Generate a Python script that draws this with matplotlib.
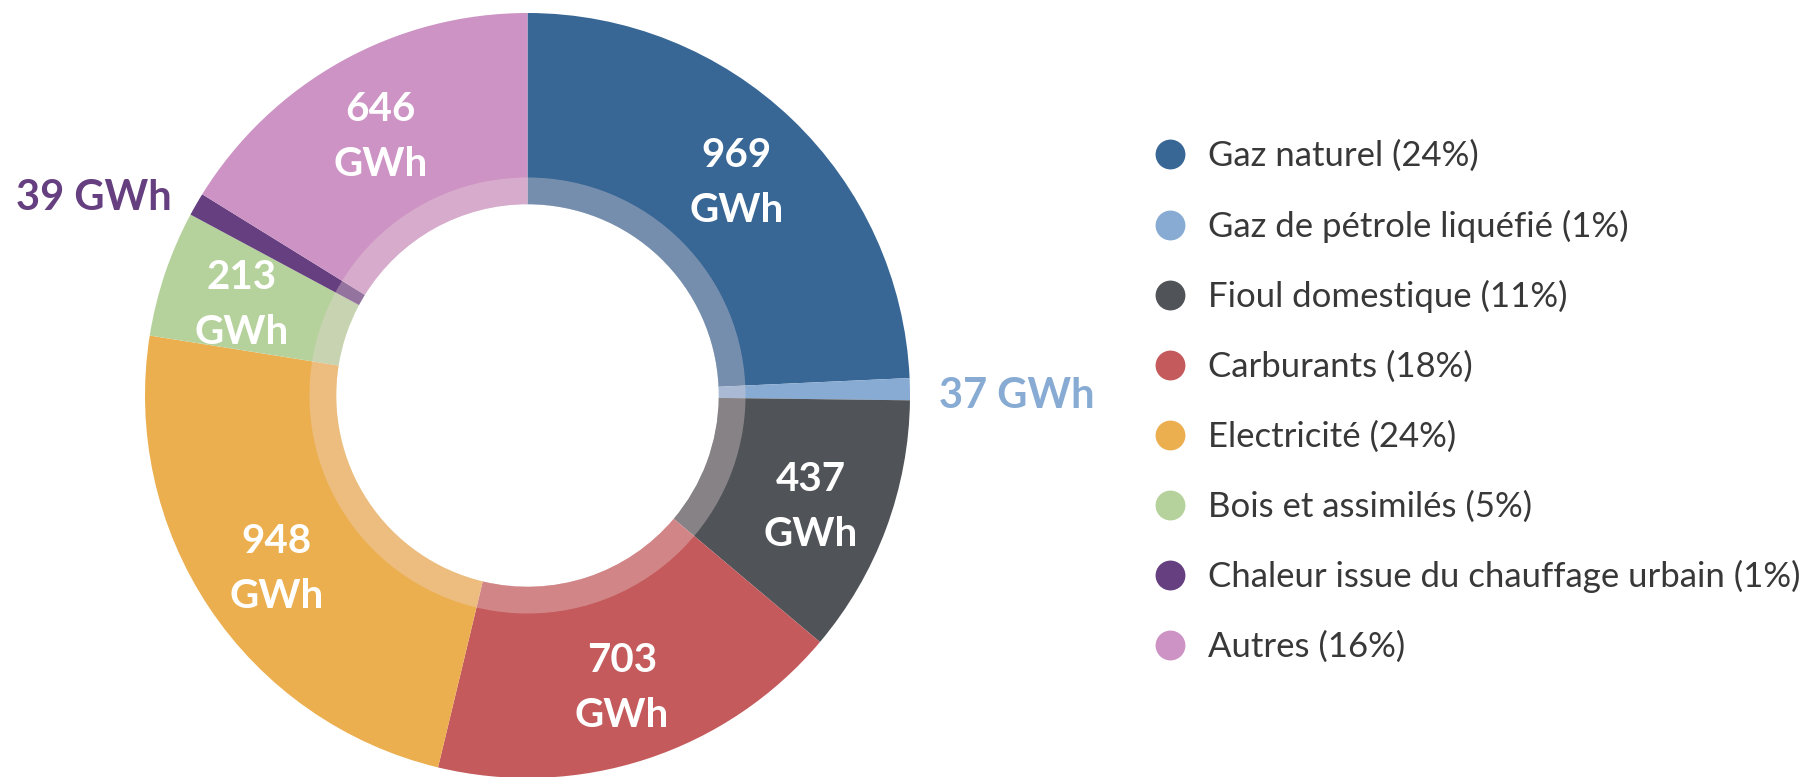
import numpy as np
import matplotlib.pyplot as plt
from matplotlib.lines import Line2D

# energy consumption by source (GWh)
sources = ['Gaz naturel', 'Gaz de pétrole liquéfié', 'Fioul domestique', 'Carburants',
           'Electricité', 'Bois et assimilés', 'Chaleur issue du chauffage urbain', 'Autres']
gwh = [969, 37, 437, 703, 948, 213, 39, 646]
shares = [24, 1, 11, 18, 24, 5, 1, 16]
colors = ['#386796', '#87abd3', '#505458', '#c45a5b', '#ecaf4f', '#b6d29c', '#653f7f', '#cd93c4']
outside = [False, True, False, False, False, False, True, False]

fig = plt.figure(figsize=(18.16, 7.77), dpi=100)
ax = fig.add_axes([145 / 1816, -1 / 777, 765 / 1816, 765 / 777])

wedges, _ = ax.pie(gwh, colors=colors, startangle=90, counterclock=False, radius=1,
                   wedgeprops=dict(width=0.5, linewidth=0))

# translucent inner ring
ax.pie([1], colors=['#ecd8da'], radius=0.57,
       wedgeprops=dict(width=0.07, linewidth=0, alpha=0.35))

ax.set_xlim(-1, 1)
ax.set_ylim(-1, 1)
ax.set_aspect('equal')
ax.axis('off')

lab_font = 'Lato'
for w, v, c, out in zip(wedges, gwh, colors, outside):
    mid = np.deg2rad((w.theta1 + w.theta2) / 2)
    if out:
        r = 1.075
        x, y = r * np.cos(mid), r * np.sin(mid) - 0.02
        ax.text(x, y, f'{v} GWh', ha='left' if x > 0 else 'right', va='center',
                color=c, fontsize=30, fontweight='bold', family=lab_font)
    else:
        r = 0.79
        x, y = r * np.cos(mid), r * np.sin(mid) - 0.015
        ax.text(x, y, f'{v}\nGWh', ha='center', va='center', color='white',
                fontsize=29, fontweight='bold', family=lab_font, linespacing=1.6)

handles = [Line2D([], [], marker='o', linestyle='', markersize=21.5, color=c,
                  markeredgewidth=0) for c in colors]
labels = [f'{s} ({p}%)' for s, p in zip(sources, shares)]
fig.legend(handles, labels, loc='upper left', bbox_to_anchor=(1135 / 1816, 1 - 126 / 777),
           frameon=False, prop=dict(family=lab_font, size=25),
           labelspacing=1.08, handletextpad=0.5, labelcolor='#383838',
           borderaxespad=0, handlelength=1.2)

fig.savefig('out.png', dpi=100)
